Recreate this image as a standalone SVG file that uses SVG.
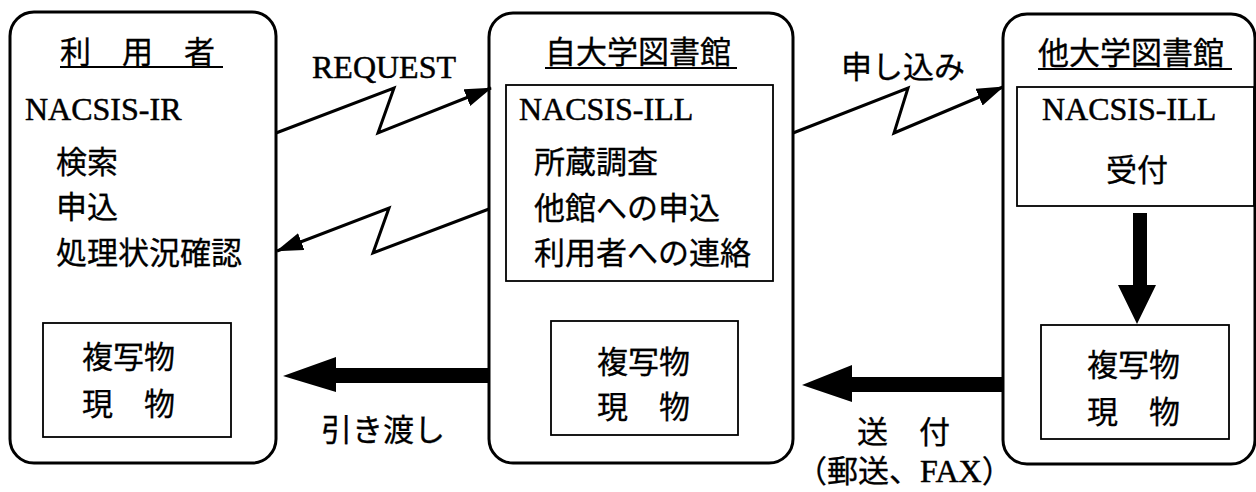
<svg xmlns="http://www.w3.org/2000/svg" width="1256" height="492" viewBox="0 0 1256 492">
<style>
.outer{fill:none;stroke:#000;stroke-width:3}
.inner{fill:none;stroke:#000;stroke-width:1.8}
.jp{font-family:"Noto Sans CJK JP","Noto Sans CJK SC",sans-serif;font-size:31px;fill:#000;stroke:#000;stroke-width:0.3}
.en{font-family:"Liberation Serif","Times New Roman",serif;font-size:32px;fill:#000;stroke:#000;stroke-width:0.5}
.ul{stroke:#000;stroke-width:2}
.zig{fill:none;stroke:#000;stroke-width:3;stroke-linejoin:miter}
.big{fill:#000}
</style>
<defs>
<marker id="ah" markerUnits="userSpaceOnUse" markerWidth="28" markerHeight="20" refX="26" refY="9" orient="auto">
<path d="M0,0 L27,9 L0,18 z" fill="#000"/>
</marker>
</defs>
<rect width="1256" height="492" fill="#fff"/>

<g id="user">
<rect class="outer" x="10" y="12" width="266" height="451" rx="24"/>
<text class="jp" x="60" y="63">利　用　者</text>
<line class="ul" x1="60" y1="67" x2="223" y2="67"/>
<text class="en" x="25" y="120">NACSIS-IR</text>
<text class="jp" x="56" y="173">検索</text>
<text class="jp" x="56" y="218">申込</text>
<text class="jp" x="56" y="264">処理状況確認</text>
<rect class="inner" x="43" y="323" width="188" height="114"/>
<text class="jp" x="82" y="368">複写物</text>
<text class="jp" x="82" y="415">現　物</text>
</g>

<g id="own-library">
<rect class="outer" x="489" y="13" width="304" height="450" rx="24"/>
<text class="jp" x="545" y="63">自大学図書館</text>
<line class="ul" x1="545" y1="68" x2="737" y2="68"/>
<rect class="inner" x="506" y="85" width="267" height="196"/>
<text class="en" x="519" y="120">NACSIS-ILL</text>
<text class="jp" x="534" y="173">所蔵調査</text>
<text class="jp" x="534" y="219">他館への申込</text>
<text class="jp" x="534" y="264">利用者への連絡</text>
<rect class="inner" x="551" y="321" width="187" height="114"/>
<text class="jp" x="597" y="373">複写物</text>
<text class="jp" x="597" y="418">現　物</text>
</g>

<g id="other-library">
<rect class="outer" x="1003" y="14" width="252" height="450" rx="24"/>
<text class="jp" x="1038" y="64">他大学図書館</text>
<line class="ul" x1="1038" y1="69" x2="1232" y2="69"/>
<rect class="inner" x="1017" y="87" width="237" height="119"/>
<text class="en" x="1042" y="120">NACSIS-ILL</text>
<text class="jp" x="1106" y="181">受付</text>
<rect class="inner" x="1041" y="325" width="188" height="114"/>
<text class="jp" x="1087" y="376">複写物</text>
<text class="jp" x="1087" y="423">現　物</text>
</g>

<g id="connectors">
<polyline class="zig" points="276,133 394,88 378,133 491,88" marker-end="url(#ah)"/>
<polyline class="zig" points="489,209 373,253 389,208 277,251" marker-end="url(#ah)"/>
<polyline class="zig" points="793,133 908,88 894,133 1003,87" marker-end="url(#ah)"/>
<polygon class="big" points="489,368 336,368 336,357 283,376 336,392 336,383 489,383"/>
<polygon class="big" points="1003,377 852,377 852,365 802,385 852,402 852,392 1003,392"/>
<polygon class="big" points="1133,213 1147,213 1147,285 1156,285 1137,324 1118,285 1133,285"/>
<text class="en" x="312" y="78">REQUEST</text>
<text class="jp" x="841" y="78">申し込み</text>
<text class="jp" x="321" y="441">引き渡し</text>
<text class="jp" x="857" y="443">送　付</text>
<text class="jp" x="796" y="482">（郵送、<tspan class="en">FAX</tspan>）</text>
</g>
</svg>
